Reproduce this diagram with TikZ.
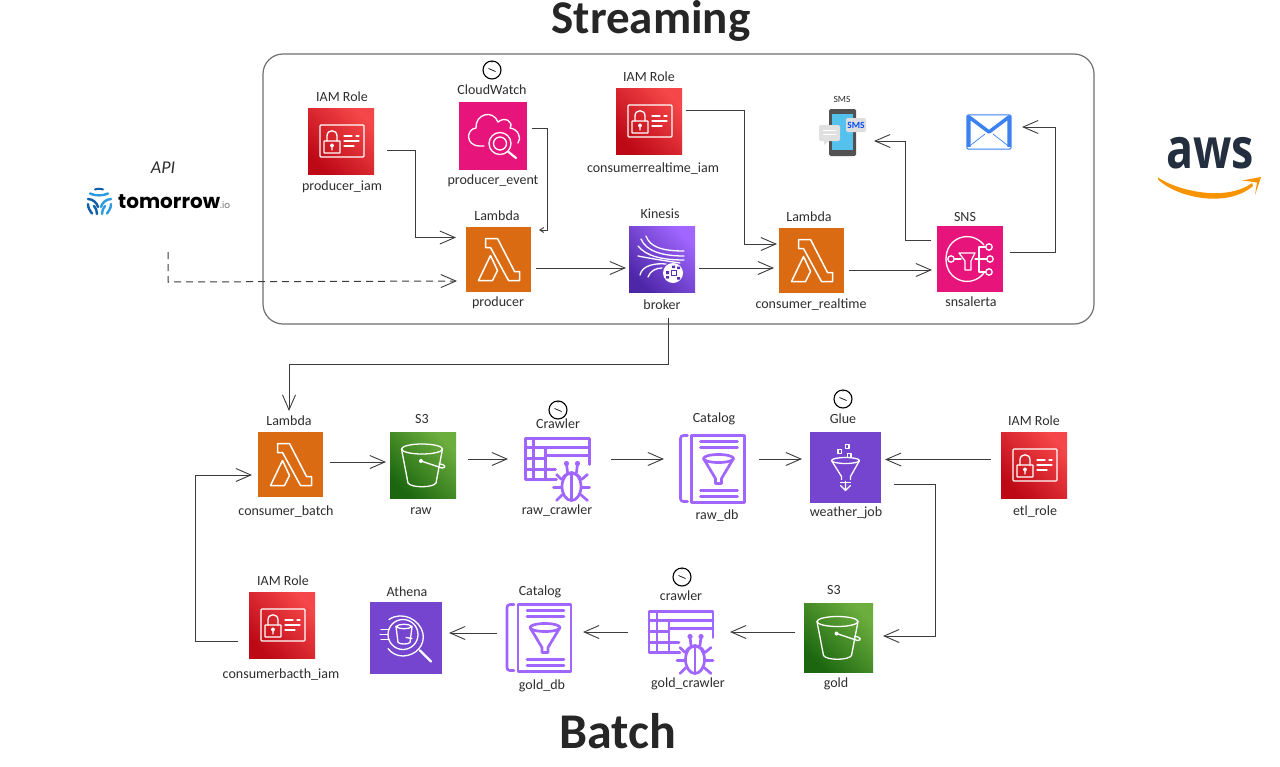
\documentclass[tikz,border=0pt]{standalone}
\usepackage{graphicx}
\usepackage{fontspec}
\setmainfont{Carlito}
\newfontfamily\logofont{Poppins}
\newfontfamily\awsfont{Open Sans}
\usetikzlibrary{arrows.meta,calc}
\definecolor{iamlo}{HTML}{BD0816}
\definecolor{iamhi}{HTML}{F54749}
\definecolor{slo}{HTML}{1B660F}
\definecolor{shi}{HTML}{6CAE3E}
\definecolor{klo}{HTML}{4D27A8}
\definecolor{khi}{HTML}{A166FF}
\definecolor{lam}{HTML}{DB6B12}
\definecolor{pink}{HTML}{E7157B}
\definecolor{glu}{HTML}{7545D0}
\definecolor{cata}{HTML}{A166FF}
\definecolor{lin}{HTML}{3C3C3C}
\definecolor{lbl}{HTML}{2E2E2E}
\definecolor{boxl}{HTML}{707070}
\definecolor{mailb}{HTML}{3B82F0}
\definecolor{tmrd}{HTML}{0E5FA8}
\definecolor{tmrl}{HTML}{2B9BE0}
\definecolor{amz}{HTML}{F79400}
\definecolor{awsd}{HTML}{232F3E}
\definecolor{scr}{HTML}{55C2EE}
\tikzset{
  base/.style={rectangle,inner sep=0pt,draw=none,minimum size=#1},
  iambox/.style={base=66pt,bottom color=iamlo,top color=iamhi,shading angle=-45},
  sbox/.style={base=#1,bottom color=slo,top color=shi,shading angle=-45},
  kbox/.style={base=66pt,bottom color=klo,top color=khi,shading angle=-45},
  lambox/.style={base=65pt,fill=lam},
  pinkbox/.style={base=#1,fill=pink},
  glubox/.style={base=#1,fill=glu},
  txt/.style={font=\fontsize{14}{16}\selectfont,text=lbl,inner sep=0pt},
  title/.style={font=\fontsize{#1}{50}\bfseries\selectfont,text=black!85,inner sep=0pt},
  conn/.style={draw=lin,line width=.9pt,-{Straight Barb[length=15pt,width=13pt,line width=.9pt]}},
  ico/.style={draw=white,line width=1.3pt,line join=round,line cap=round},
  pur/.style={draw=cata,line width=2.7pt,line join=round,line cap=round},
  iamicon/.pic={
    \draw[ico,rounded corners=1pt] (-21,-16) rectangle (23,16);
    \draw[ico,rounded corners=.5pt] (-17,0) rectangle (-1,12);
    \draw[ico] (-14,0) -- (-14,-5) .. controls (-14,-12) and (-4,-12) .. (-4,-5) -- (-4,0);
    \draw[ico] (-9,4.5) circle (1.4) (-9,6) -- (-9,9);
    \draw[ico] (3,-5) -- (11,-5) (15,-5) -- (18,-5) (3,0) -- (18,0) (3,5) -- (13,5);
  },
  lamicon/.pic={
    \draw[ico,line width=1.5pt] (-13,-21) -- (-1,-21) -- (16,12) -- (21,12) -- (21,21) -- (10,21) -- (-8,-12) -- (-13,-12) -- cycle;
    \draw[ico,line width=1.5pt] (-20,21) -- (-8,-4) -- (-1,11) -- (-6,21) -- cycle;
  },
  s3icon/.pic={
    \draw[ico] (-1,-16) ellipse (20.5 and 5);
    \draw[ico] (-21.5,-16) -- (-15,18) .. controls (-12,23) and (10,23) .. (13,18) -- (19.5,-16);
    \fill[white] (-2,-4) circle (2);
    \draw[ico] (-2,-4) -- (19,3);
    \draw[ico] (19,3) .. controls (24,3) and (22,-1) .. (16,-1.2);
  },
  cwicon/.pic={
    \draw[ico] (-9,10) -- (-13,10) .. controls (-28,10) and (-27,-7) .. (-17,-8) .. controls (-18,-22) and (0,-27) .. (5,-14) .. controls (12,-20) and (21,-14) .. (17,-8) .. controls (25,-7) and (29,2) .. (25,7);
    \draw[ico,fill=pink] (7,7.5) circle (11);
    \draw[ico] (7,7.5) circle (6.5);
    \draw[ico,line width=2.2pt] (15,15.5) -- (23,22);
  },
  kinicon/.pic={
    \draw[ico] (-16,-23) .. controls (-12,-12) and (0,-8) .. (22,-8);
    \draw[ico] (-21,-20) .. controls (-16,-8) and (0,-3) .. (22,-3);
    \draw[ico] (-24,-13) .. controls (-16,-3) and (0,1) .. (22,1);
    \draw[ico] (-24,-3) .. controls (-14,-1) and (-2,1) .. (18,4);
    \draw[ico] (-22,16) .. controls (-20,6) and (-6,4) .. (4,5);
    \draw[ico] (-14,18) .. controls (-12,12) and (-6,9) .. (0,9);
    \fill[white] (11,14) circle (10);
    \fill[klo!85!khi] (4,12) rectangle (7,15) (10,6.5) rectangle (13,9) (15,7.5) rectangle (18,10) (15,18) rectangle (18,20.5) (4,17) rectangle (7,19.5);
    \draw[klo!85!khi,line width=1pt] (9,11) rectangle (14,16.5);
  },
  snsicon/.pic={
    \draw[ico] (14,-14) .. controls (1,-30) and (-24,-22) .. (-24,0) .. controls (-24,22) and (1,30) .. (14,14);
    \draw[ico,fill=pink] (-19,0) circle (3.2);
    \draw[ico] (-11,-6) -- (5,-6) -- (1,2) -- (1,11) -- (-5,11) -- (-5,2) -- cycle;
    \draw[ico] (-15,0) -- (-9,0);
    \draw[ico] (9,-12) -- (9,13) (5,0) -- (17,0) (9,-12) -- (15.5,-12) (9,13) -- (15.5,13);
    \draw[ico] (19,-12) circle (3.2) (20,0) circle (3.2) (19,13) circle (3.2);
  },
  glueicon/.pic={
    \draw[ico] (1.7,-21) +(-1.9,-1.9) rectangle +(1.9,1.9);
    \draw[ico] (-5.7,-16) +(-1.9,-1.9) rectangle +(1.9,1.9);
    \draw[ico] (3.7,-12) +(-1.9,-1.9) rectangle +(1.9,1.9);
    \draw[ico] (0,-7) ellipse (14 and 3);
    \draw[ico] (-14,-7) -- (-4,9) -- (-4,12) (14,-7) -- (5,9) -- (5,12);
    \draw[ico] (0,14) -- (0,23) (-5,18) -- (0,23) -- (5,18);
    \draw[ico] (-5,15) -- (5,15);
  },
  athicon/.pic={
    \draw[ico] (-3,-3) circle (15);
    \draw[ico] (-17,-18) .. controls (-4,-27) and (14,-18) .. (17,-4) .. controls (19,8) and (10,18) .. (-3,18.5) .. controls (-10,18.5) and (-15,15) .. (-18,11);
    \draw[ico] (-10,-11) .. controls (-7,-14) and (3,-14) .. (6,-11) .. controls (3,-8) and (-7,-8) .. (-10,-11);
    \draw[ico] (-10,-11) -- (-8,5) .. controls (-6,7) and (2,7) .. (4,5) -- (6,-11);
    \draw[ico] (0,0) -- (6,1);
    \draw[ico,line width=2.4pt] (14,13) -- (25,24);
    \draw[ico] (-25,-8) -- (-17,-8) (-26,-3) -- (-18,-3) (-25,2) -- (-17,2);
  },
  caticon/.pic={
    \draw[pur] (-25,-33) -- (-29,-33) .. controls (-31,-33) and (-32,-32) .. (-32,-30) -- (-32,30) .. controls (-32,32) and (-31,33) .. (-29,33) -- (-25,33);
    \draw[pur] (-21,-33) rectangle (32,34);
    \draw[pur] (-12,-27) -- (25,-27) (-12,-21) -- (25,-21) (-12,22) -- (25,22) (-12,28) -- (25,28);
    \draw[pur] (6,-10) ellipse (15 and 4);
    \draw[pur] (-9,-10) -- (3,10) -- (3,15) -- (9,15) -- (9,10) -- (21,-10);
  },
  crawicon/.pic={
    \draw[pur] (32,-5) -- (32,-31) -- (-32,-31) -- (-32,10) -- (-1,10);
    \draw[pur] (-32,-22) -- (32,-22) (-12,-14) -- (32,-14) (-32,0) -- (-2,0) (-24,-31) -- (-24,10) (-12,-22) -- (-12,10) (-32,-11) -- (-12,-11);
    \draw[pur] (14,17) ellipse (9.5 and 14);
    \draw[pur] (14,5) -- (14,31);
    \draw[pur] (5,10) .. controls (6,2) and (22,2) .. (23,10);
    \fill[cata] (9,-6) circle (2.6) (20,-6) circle (2.6);
    \draw[pur] (9,-6) -- (10,3) (20,-6) -- (19,3);
    \draw[pur] (4,10) -- (-1,5) (24,10) -- (30,5) (4,18) -- (-4,18) (24,18) -- (32,18) (5,25) -- (-1,31) (23,25) -- (30,31);
  },
  clockicon/.pic={
    \draw[black,line width=1.1pt] (0,0) circle (9);
    \draw[black,line width=.7pt] (0,-9) -- (0,-7.5) (-3.5,-1.5) -- (0,0) -- (3.5,1.5);
  }
}
\begin{document}
\begin{tikzpicture}[x=1pt,y=-1pt]
\useasboundingbox[fill=white] (0,0) rectangle (1280,766);

% streaming container
\node[draw=boxl,line width=1.2pt,rounded corners=20pt,inner sep=0pt,minimum width=831pt,minimum height=270pt] (stream) at (678.5,189) {};

% titles
\node[title=47] (t1) at (651,21) {Streaming};
\node[title=50] (t2) at (618,731) {Batch};

% main boxes
\node[iambox] (prodiam) at (341,141) {};
\node[pinkbox=68pt] (cw) at (493,136) {};
\node[lambox] (producer) at (498.5,259.5) {};
\node[iambox] (criam) at (649,121) {};
\node[kbox] (broker) at (662,259) {};
\node[lambox] (crt) at (811.5,260.5) {};
\node[pinkbox=66pt] (sns) at (970,259) {};
\node[base=47pt] (phone) at (842.5,132.5) {};
\node[base=44pt,minimum height=34pt] (mail) at (989,132) {};
\node[lambox] (lb) at (290.5,464.5) {};
\node[sbox=66pt] (raw) at (423,465) {};
\node[base=67pt] (rawcr) at (557.5,469.5) {};
\node[base=67pt] (rawdb) at (712.5,468.5) {};
\node[glubox=71pt] (glue) at (845.5,467.5) {};
\node[iambox] (etl) at (1034,465) {};
\node[iambox] (cbiam) at (282,625) {};
\node[glubox=72pt] (athena) at (406,637.5) {};
\node[base=65pt] (golddb) at (539,637.5) {};
\node[base=67pt] (goldcr) at (681,642.5) {};
\node[sbox=69pt] (gold) at (838.5,637.5) {};

% icons
\pic at (prodiam.center) {iamicon};
\pic at (criam.center) {iamicon};
\pic at (etl.center) {iamicon};
\pic at (cbiam.center) {iamicon};
\pic at (producer.center) {lamicon};
\pic at (crt.center) {lamicon};
\pic at (lb.center) {lamicon};
\pic at (raw.center) {s3icon};
\pic at (gold.center) {s3icon};
\pic at (cw.center) {cwicon};
\pic at (broker.center) {kinicon};
\pic at (sns.center) {snsicon};
\pic at (glue.center) {glueicon};
\pic at (athena.center) {athicon};
\pic at (rawdb.center) {caticon};
\pic at (golddb.center) {caticon};
\pic at (rawcr.center) {crawicon};
\pic at (goldcr.center) {crawicon};
\pic at (492,70) {clockicon};
\pic at (558,410) {clockicon};
\pic at (843,399) {clockicon};
\pic at (682,577) {clockicon};

% phone
\fill[rounded corners=1.5pt,fill=black!68] (829,109) rectangle (856,156);
\fill[fill=scr] (832,114) rectangle (853,150);
\fill[rounded corners=2pt,fill=black!12] (819,125) rectangle (840,141);
\fill[fill=black!12] (824,141) -- (829,141) -- (824,145) -- cycle;
\draw[white,line width=1pt] (823,130) -- (836,130) (823,134) -- (836,134);
\fill[rounded corners=2pt,fill=black!13] (846,118) rectangle (866,132);
\node[inner sep=0pt,font=\fontsize{9.5}{10}\bfseries\selectfont,text=blue!70!cyan] (smstxt) at (856,125) {SMS};

% mail
\draw[draw=mailb,line width=1pt,fill=white,rounded corners=1.5pt] (mail.north west) rectangle (mail.south east);
\begin{scope}[line width=3.5pt,draw=mailb,line join=round]
\draw ([shift={(2,32)}]mail.north west) -- ([shift={(2,2)}]mail.north west) -- (mail.center) -- ([shift={(-2,2)}]mail.north east) -- ([shift={(-2,32)}]mail.north east);
\end{scope}
\draw[draw=mailb,line width=.7pt] ([shift={(3,31)}]mail.north west) -- ([shift={(-4,2)}]mail.center) ([shift={(-3,31)}]mail.north east) -- ([shift={(4,2)}]mail.center);

% tomorrow.io logo
\node[inner sep=0pt,anchor=west] (tmr) at (118,201.5) {\logofont\fontsize{20}{24}\selectfont\bfseries tomorrow\textcolor{black!55}{\fontsize{9}{10}\mdseries\selectfont.io}};
\begin{scope}[line cap=round]
\draw[draw=tmrd,line width=2pt] (95,189.5) .. controls (97,188.5) and (101,188.5) .. (103,189.5);
\draw[draw=tmrl,line width=2.4pt] (90,193.5) .. controls (95,196) and (103,196) .. (108,193.5);
\draw[draw=tmrd,line width=2.4pt] (88,199) .. controls (93,199) and (97,203) .. (98,207);
\draw[draw=tmrl,line width=2.4pt] (111,199) .. controls (106,199) and (102,203) .. (101,207);
\draw[draw=tmrd,line width=2.4pt] (88,204) .. controls (88,208) and (90,211) .. (92,213.5);
\draw[draw=tmrd,line width=2.4pt] (94,206) .. controls (96,208) and (97,211) .. (97,214);
\draw[draw=tmrl,line width=2.4pt] (105,206) .. controls (103,208) and (102,211) .. (102,214);
\draw[draw=tmrl,line width=2.4pt] (111,204) .. controls (111,208) and (109,211) .. (107,213.5);
\end{scope}

% aws logo
\node[inner sep=0pt,font=\awsfont\fontsize{56}{60}\bfseries\selectfont,text=awsd] (aws) at (1210,153) {\scalebox{.8}[1]{aws}};
\fill[fill=amz] (1158,177.5) .. controls (1178,191) and (1226,202) .. (1252,183) -- (1253,186) .. controls (1226,209) and (1176,197) .. (1158,179.5) -- cycle;
\fill[fill=amz] (1242,180.5) -- (1261,177) -- (1255,195) -- (1257,182.5) -- cycle;

% text labels
\node[txt] (l1) at (342,97) {IAM Role};
\node[txt] (l2) at (342,187) {producer\_iam};
\node[txt] (l3) at (492,90) {CloudWatch};
\node[txt] (l4) at (493,181) {producer\_event};
\node[txt] (l5) at (497,216) {Lambda};
\node[txt] (l6) at (498,303) {producer};
\node[txt] (l7) at (649,77) {IAM Role};
\node[txt] (l8) at (653,169) {consumerrealtime\_iam};
\node[txt] (l9) at (660,214) {Kinesis};
\node[txt] (l10) at (662,305) {broker};
\node[txt,font=\fontsize{9.5}{11}\selectfont] (l11) at (842,99) {SMS};
\node[txt] (l12) at (809,217) {Lambda};
\node[txt] (l13) at (811,305) {consumer\_realtime};
\node[txt] (l14) at (965,217) {SNS};
\node[txt] (l15) at (971,302) {snsalerta};
\node[txt,font=\fontsize{18}{20}\itshape\selectfont] (l16) at (163,168) {API};
\node[txt] (l17) at (289,421) {Lambda};
\node[txt] (l18) at (286,512) {consumer\_batch};
\node[txt] (l19) at (422,419) {S3};
\node[txt] (l20) at (421,511) {raw};
\node[txt] (l21) at (558,424) {Crawler};
\node[txt] (l22) at (557,511) {raw\_crawler};
\node[txt] (l23) at (714,419) {Catalog};
\node[txt] (l24) at (717,516) {raw\_db};
\node[txt] (l25) at (843,419) {Glue};
\node[txt] (l26) at (846,513) {weather\_job};
\node[txt] (l27) at (1034,421) {IAM Role};
\node[txt] (l28) at (1035,512) {etl\_role};
\node[txt] (l29) at (283,581) {IAM Role};
\node[txt] (l30) at (281,675) {consumerbacth\_iam};
\node[txt] (l31) at (407,592) {Athena};
\node[txt] (l32) at (540,592) {Catalog};
\node[txt] (l33) at (542,686) {gold\_db};
\node[txt] (l34) at (681,596) {crawler};
\node[txt] (l35) at (688,684) {gold\_crawler};
\node[txt] (l36) at (834,590) {S3};
\node[txt] (l37) at (836,684) {gold};

% connectors
\coordinate (apistart) at (168,252);
\draw[conn] ([shift={(46,9)}]prodiam.center) -- (415,150) -- (415,237.5) -- ([shift={(-42.5,-22)}]producer.center);
\draw[draw=lin,line width=.9pt,-{Straight Barb[length=4pt,width=5pt,line width=.9pt]}] ([shift={(39,-8)}]cw.center) -- (547,128) -- (547,230) -- ([shift={(40.5,-29.5)}]producer.center);
\draw[conn,line width=1pt,dash pattern=on 7pt off 5pt] (apistart) -- (168,282) -- ([shift={(-41.5,21.5)}]producer.center);
\draw[conn] ([shift={(37.5,8.5)}]producer.center) -- ([shift={(-36,9)}]broker.center);
\draw[conn] ([shift={(37,9)}]broker.center) -- ([shift={(-37.5,7.5)}]crt.center);
\draw[conn] ([shift={(37,-11)}]criam.center) -- (744,110) -- (744,244) -- ([shift={(-34.5,-16.5)}]crt.center);
\draw[conn] ([shift={(37.5,9.5)}]crt.center) -- ([shift={(-38,11)}]sns.center);
\draw[conn] ([shift={(-39,-19)}]sns.center) -- (905,240) -- (905,141) -- ([shift={(31.5,8.5)}]phone.center);
\draw[conn] ([shift={(40,-7)}]sns.center) -- (1055,252) -- (1055,127) -- ([shift={(33,-5)}]mail.center);
\draw[conn] ([shift={(6,59)}]broker.center) -- (668,364) -- (289,364) -- ([shift={(-1.5,-53.5)}]lb.center);
\draw[conn] ([shift={(39.5,-2.5)}]lb.center) -- ([shift={(-37,-3)}]raw.center);
\draw[conn] ([shift={(45,-6)}]raw.center) -- ([shift={(-49.5,-10.5)}]rawcr.center);
\draw[conn] ([shift={(53.5,-10.5)}]rawcr.center) -- ([shift={(-48.5,-9.5)}]rawdb.center);
\draw[conn] ([shift={(46.5,-9.5)}]rawdb.center) -- ([shift={(-43.5,-8.5)}]glue.center);
\draw[conn] ([shift={(-43,-5.5)}]etl.center) -- ([shift={(39.5,-8)}]glue.center);
\draw[conn] ([shift={(48.5,16.5)}]glue.center) -- (935,484) -- (935,636) -- ([shift={(44.5,-1.5)}]gold.center);
\draw[conn] ([shift={(-43.5,-5.5)}]gold.center) -- ([shift={(49,-10.5)}]goldcr.center);
\draw[conn] ([shift={(-53,-10.5)}]goldcr.center) -- ([shift={(44,-5.5)}]golddb.center);
\draw[conn] ([shift={(-42,-4.5)}]golddb.center) -- ([shift={(43,-4.5)}]athena.center);
\draw[conn] ([shift={(-44,16)}]cbiam.center) -- (195,641) -- (195,475) -- ([shift={(-38.5,10.5)}]lb.center);
\end{tikzpicture}
\end{document}
